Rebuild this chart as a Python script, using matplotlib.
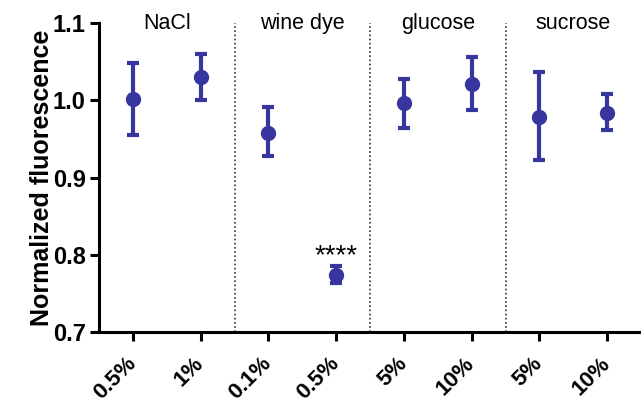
import matplotlib
matplotlib.use("Agg")
import matplotlib.pyplot as plt
import matplotlib.transforms as mtransforms
import numpy as np

plt.rcParams['font.family'] = ['Liberation Sans', 'DejaVu Sans']

# data
tick_labels = ["0.5%", "1%", "0.1%", "0.5%", "5%", "10%", "5%", "10%"]
groups = ["NaCl", "wine dye", "glucose", "sucrose"]
means = [1.002, 1.030, 0.958, 0.774, 0.996, 1.021, 0.979, 0.984]
upper = [1.048, 1.060, 0.991, 0.785, 1.027, 1.056, 1.036, 1.008]
lower = [0.955, 1.000, 0.928, 0.764, 0.964, 0.987, 0.923, 0.961]
stars = {3: "****"}

blue = "#36369e"

fig = plt.figure(figsize=(6.41, 3.98), dpi=100)
ax = fig.add_axes([0.1545, 0.166, 0.8455, 0.776])

x = np.arange(len(means))
m = np.array(means)
yerr = [m - np.array(lower), np.array(upper) - m]
ax.errorbar(x, m, yerr=yerr, fmt='o', color=blue, ms=10, elinewidth=3,
            capsize=4.5, capthick=3, zorder=3)

for b in [1.5, 3.5, 5.5]:
    ax.axvline(b, ymin=0, ymax=1, color="#333333", ls=(0, (1, 1.5)), lw=1.2, zorder=1)

for i, g in enumerate(groups):
    ax.text(2 * i + 0.5, 1.1, g, ha='center', va='center', fontsize=15.5)

for i, s in stars.items():
    ax.text(i, 0.789, s, ha='center', va='baseline', fontsize=20)

ax.set_xlim(-0.5, 7.5)
ax.set_ylim(0.7, 1.1)
ax.set_yticks([0.7, 0.8, 0.9, 1.0, 1.1])
ax.set_yticklabels(["0.7", "0.8", "0.9", "1.0", "1.1"], fontsize=17, fontweight='bold')
ax.set_xticks(x)
ax.set_xticklabels(tick_labels, rotation=45, ha='right', va='center', rotation_mode='anchor',
                   fontsize=16, fontweight='bold')
shift = mtransforms.ScaledTranslation(-4 / 100, 0, fig.dpi_scale_trans)
for lab in ax.get_xticklabels():
    lab.set_transform(lab.get_transform() + shift)
ax.set_ylabel("Normalized fluorescence", fontsize=18, fontweight='bold', labelpad=-1)

for s in ['top', 'right']:
    ax.spines[s].set_visible(False)
for s in ['left', 'bottom']:
    ax.spines[s].set_linewidth(2.2)
ax.tick_params(width=2.2, length=6.5)
ax.tick_params(axis='y', pad=3)
ax.tick_params(axis='x', pad=14)

fig.savefig("out.png", dpi=100)
